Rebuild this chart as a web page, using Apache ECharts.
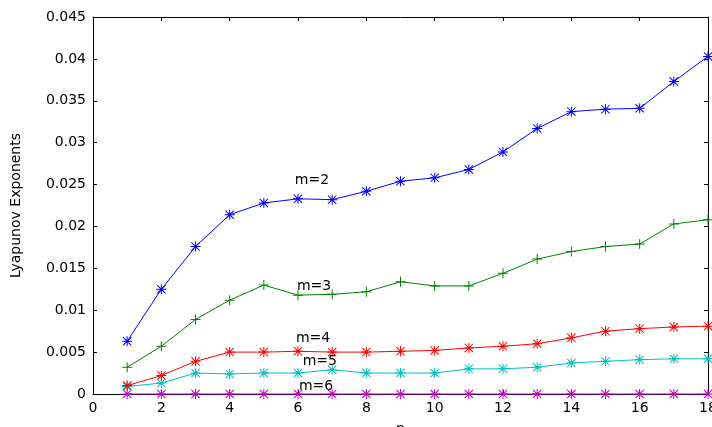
<!DOCTYPE html>
<html><head><meta charset="utf-8">
<script src="https://cdn.jsdelivr.net/npm/echarts@6/dist/echarts.min.js"></script>
<style>html,body{margin:0;padding:0;background:#fff}#c{width:712px;height:427px}</style>
</head><body><div id="c"></div>
<script>
const n = [1,2,3,4,5,6,7,8,9,10,11,12,13,14,15,16,17,18];
const m2 = [0.0063,0.0125,0.0176,0.0214,0.0228,0.0233,0.0232,0.0242,0.0254,0.0258,0.0268,0.0289,0.0317,0.0337,0.0340,0.0341,0.0373,0.0403];
const m3 = [0.0032,0.0057,0.0089,0.0112,0.0130,0.0118,0.0119,0.0122,0.0134,0.0129,0.0129,0.0144,0.0161,0.0170,0.0176,0.0179,0.0203,0.0208];
const m4 = [0.0010,0.0022,0.0039,0.0050,0.0050,0.0051,0.0050,0.0050,0.0051,0.0052,0.0055,0.0057,0.0060,0.0067,0.0075,0.0078,0.0080,0.0081];
const m5 = [0.0009,0.0013,0.0025,0.0024,0.0025,0.0025,0.0029,0.0025,0.0025,0.0025,0.0030,0.0030,0.0032,0.0037,0.0039,0.0041,0.0042,0.0042];
const m6 = [0,0,0,0,0,0,0,0,0,0,0,0,0,0,0,0,0,0];
const seriesNames = ['m=2','m=3','m=4','m=5','m=6'];
const labelPos = [[6.41,0.0255],[6.47,0.0129],[6.44,0.0067],[6.64,0.0039],[6.53,0.00095]];

const STAR = 'path://M4.5,0h1v10h-1zM0,4.5h10v1h-10zM1.2,0.5L9.5,8.8L8.8,9.5L0.5,1.2zM8.8,0.5L9.5,1.2L1.2,9.5L0.5,8.8z';
const PLUS = 'path://M4.5,0h1v10h-1zM0,4.5h10v1h-10z';
const colors = ['#0000ff','#008000','#ff0000','#00bfbf','#bf00bf'];
const syms = [STAR, PLUS, STAR, STAR, STAR];
const vals = [m2,m3,m4,m5,m6];

const font = 'DejaVu Sans, sans-serif';
const chart = echarts.init(document.getElementById('c'));
const axisLine = {show:true, onZero:false, lineStyle:{color:'#000', width:1}};
const tick = {show:true, inside:true, length:4, lineStyle:{color:'#000'}};
chart.setOption({
  animation:false,
  grid:{left:93, right:4, top:17, bottom:33, show:false, containLabel:false, outerBoundsMode:'none'},
  xAxis:[{
    type:'value', min:0, max:18, interval:2, position:'bottom',
    axisLine, axisTick:tick, splitLine:{show:false},
    axisLabel:{color:'#000', fontFamily:font, fontSize:14, margin:7},
    name:'n', nameLocation:'middle', nameGap:28,
    nameTextStyle:{color:'#000', fontFamily:font, fontSize:14}
  },{
    type:'value', min:0, max:18, interval:2, position:'top',
    axisLine, axisTick:tick, splitLine:{show:false}, axisLabel:{show:false}
  }],
  yAxis:[{
    type:'value', min:0, max:0.045, interval:0.005, position:'left',
    axisLine, axisTick:tick, splitLine:{show:false},
    axisLabel:{color:'#000', fontFamily:font, fontSize:14, margin:7},
    name:'Lyapunov Exponents', nameLocation:'middle', nameGap:70, nameRotate:90,
    nameTextStyle:{color:'#000', fontFamily:font, fontSize:14}
  },{
    type:'value', min:0, max:0.045, interval:0.005, position:'right',
    axisLine, axisTick:tick, splitLine:{show:false}, axisLabel:{show:false}
  }],
  series: vals.map((v,i)=>({
    type:'line', name:seriesNames[i],
    data: n.map((x,j)=>[x,v[j]]),
    symbol: syms[i], symbolSize: 10, showAllSymbol:true, clip:false,
    lineStyle:{color:colors[i], width:1},
    itemStyle:{color:colors[i]},
    z: 5 - i,
    markPoint:{
      symbol:'circle', symbolSize:1, itemStyle:{color:'rgba(0,0,0,0)'},
      label:{show:true, position:'inside', formatter:seriesNames[i], color:'#000', fontFamily:font, fontSize:14},
      data:[{coord:labelPos[i]}]
    }
  }))
});
</script></body></html>
